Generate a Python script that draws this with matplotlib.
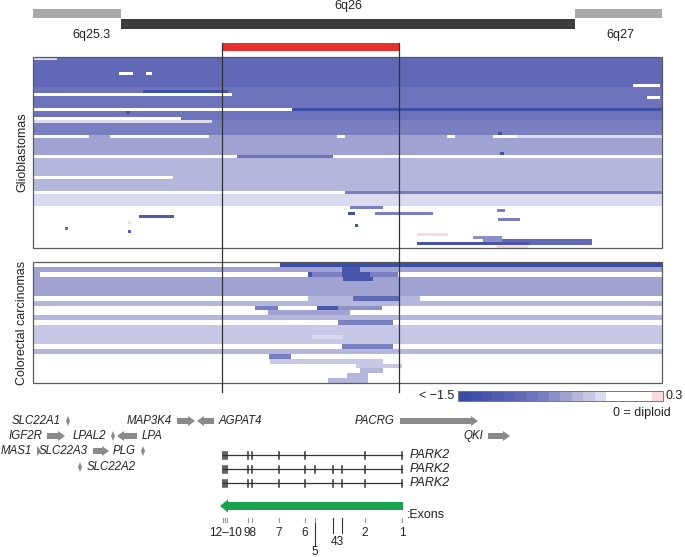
import numpy as np
import matplotlib
matplotlib.use("Agg")
import matplotlib.pyplot as plt
from matplotlib.colors import ListedColormap, BoundaryNorm
from matplotlib.patches import Rectangle, Polygon

plt.rcParams['font.family'] = ['Liberation Sans', 'DejaVu Sans']

# ---------------- DATA ----------------
# chromosome bands (position units along the region, panel spans 0..629)
band_names = ['6q25.3', '6q26', '6q27']
band_start = [0, 88, 542]
band_end = [88, 542, 629]
# minimal deleted region
mdr_start, mdr_end = 189, 366

# colour scale of log2 ratios
cbar_min, cbar_max, cbar_step = -1.5, 0.3, 0.1
scale_colors = ['#3a4ca6', '#3f50a8', '#4756ab', '#4f5cae', '#5860b2', '#6168b6',
                '#6d73bb', '#7a7fc1', '#8c90c9', '#a0a3d2', '#b4b6dc', '#c7c8e5',
                '#dadbee', '#ffffff', '#ffffff', '#ffffff', '#ffffff', '#fbd9dc']

# Glioblastoma samples: base ratio per row and segment overrides (row, start, end, value)
glio_base = ([-0.97] * 10 + [-0.88, -0.88, -0.85, -0.85, -0.85, -0.85, -0.85,
             -1.35, -0.82, -0.82, -0.82, -0.8, -0.75, -0.75, -0.75, -0.75, -0.6]
             + [-0.58] * 6 + [0.0] + [-0.5] * 7 + [-0.45] * 4 + [-0.8]
             + [-0.25] * 4 + [0.0] * 14)
glio_segments = [
    (0, 0, 24, -0.3), (5, 86, 100, 0.0), (5, 113, 119, 0.0), (9, 600, 627, 0.0),
    (11, 110, 195, -1.35), (12, 0, 199, 0.0), (13, 614, 627, 0.0),
    (17, 0, 259, 0.0), (18, 93, 97, -1.35), (20, 0, 148, 0.0), (21, 0, 179, -0.3),
    (25, 465, 469, -1.35),
    (26, 0, 56, 0.0), (26, 77, 176, 0.0), (26, 304, 312, 0.0), (26, 414, 422, 0.0),
    (26, 460, 484, 0.0), (26, 484, 629, -0.3),
    (32, 467, 471, -1.35), (33, 204, 300, -0.85), (40, 0, 140, 0.0), (45, 0, 312, 0.0),
    (50, 317, 350, -0.75), (51, 464, 472, -0.8), (52, 315, 322, -1.35), (52, 342, 400, -0.8),
    (53, 106, 141, -1.2), (54, 465, 487, -0.8), (55, 95, 98, 0.3), (56, 322, 325, -1.3),
    (57, 32, 35, -1.0), (58, 95, 98, -1.1), (59, 384, 415, 0.3), (60, 440, 469, -0.7),
    (61, 450, 469, -0.7), (61, 469, 559, -1.0), (62, 384, 497, -1.3), (62, 497, 559, -1.0),
    (63, 464, 495, 0.3),
]

# Colorectal carcinoma samples
crc_base = [0.0, -0.55, 0.0, -0.55, -0.6, -0.6, -0.55, 0.0, -0.5, 0.0, 0.0, -0.45, 0.0,
            -0.35, -0.35, -0.35, -0.35, 0.0, -0.45, 0.0, 0.0, 0.0, 0.0, 0.0, 0.0]
crc_segments = [
    (0, 247, 629, -1.45), (1, 309, 327, -1.3),
    (2, 0, 7, -0.55), (2, 275, 279, -1.3), (2, 279, 309, -0.8), (2, 309, 337, -1.3), (2, 337, 365, -0.75),
    (3, 310, 340, -1.3),
    (7, 275, 320, -0.5), (7, 320, 367, -1.0), (7, 367, 387, -0.5),
    (9, 222, 245, -0.8), (9, 284, 305, -1.25), (9, 305, 349, -0.7),
    (10, 235, 317, -0.55), (12, 305, 360, -0.75), (15, 279, 310, -0.25),
    (17, 309, 360, -0.75), (19, 236, 258, -0.8), (20, 237, 350, -0.4),
    (21, 323, 369, -0.4), (22, 327, 350, -0.5), (23, 314, 335, -0.45), (24, 295, 335, -0.45),
]

# genes
gene_names = ['SLC22A1', 'IGF2R', 'MAS1', 'SLC22A3', 'SLC22A2', 'LPAL2', 'LPA', 'PLG',
              'MAP3K4', 'AGPAT4', 'PACRG', 'QKI']
gene_start = [33, 14, 4, 60, 45, 78, 84, 108, 144, 164, 367, 455]
gene_end = [37, 32, 8, 76, 49, 82, 104, 112, 162, 181, 445, 477]
gene_strand = [0, 1, 1, 1, 0, 0, -1, 0, 1, -1, 1, 1]
gene_track = [0, 1, 2, 2, 3, 1, 1, 2, 0, 0, 0, 1]
gene_label_side = ['L', 'L', 'L', 'L', 'R', 'L', 'R', 'L', 'L', 'R', 'L', 'L']

# PARK2 exons
exon_ids = ['12', '11', '10', '9', '8', '7', '6', '5', '4', '3', '2', '1']
exon_pos = [190, 192, 194, 215, 219, 246, 272, 282, 300, 309, 332, 369]
transcripts = [
    ['12', '11', '10', '9', '8', '7', '6', '2', '1'],
    ['12', '11', '10', '9', '8', '7', '6', '5', '4', '3', '2', '1'],
    ['12', '11', '10', '9', '8', '7', '6', '4', '3', '2', '1'],
]
exon_label_text = ['12\u201310', '98', '7', '6', '5', '43', '2', '1']
exon_label_members = [['12', '11', '10'], ['9', '8'], ['7'], ['6'], ['5'], ['4', '3'], ['2'], ['1']]
exon_label_level = [0, 0, 0, 0, 2, 1, 0, 0]

# ---------------- LAYOUT ----------------
W, H = 685, 557
X0 = 33  # pixel position of region start
fig = plt.figure(figsize=(W / 100, H / 100), dpi=100)
ax = fig.add_axes([0, 0, 1, 1])
ax.set_xlim(-X0, W - X0)
ax.set_ylim(H, 0)
ax.axis('off')

REG_W = 629
txt = '#222222'

# ideogram
band_y = {'hi': (9, 18), 'lo': (19, 29)}
band_style = [('hi', '#a9a9a9'), ('lo', '#3c3c3c'), ('hi', '#a9a9a9')]
band_label_x = [58, 315, 587]
band_label_y = [35, 6, 35]
for i, nm in enumerate(band_names):
    lvl, col = band_style[i]
    y0, y1 = band_y[lvl]
    ax.add_patch(Rectangle((band_start[i], y0), band_end[i] - band_start[i], y1 - y0,
                           facecolor=col, edgecolor='none'))
    ax.text(band_label_x[i], band_label_y[i], nm, ha='center', va='center', fontsize=9, color=txt)

# red MDR bar
ax.add_patch(Rectangle((mdr_start, 43), mdr_end - mdr_start, 8, facecolor='#e8302e', edgecolor='none'))

# colormap
bounds = np.round(np.arange(cbar_min, cbar_max + cbar_step / 2, cbar_step), 2)
cmap = ListedColormap(scale_colors)
cmap.set_under(scale_colors[0])
norm = BoundaryNorm(bounds, cmap.N)


def build(base, segs):
    m = np.array(base, dtype=float)[:, None] * np.ones((1, REG_W))
    for r, s, e, v in segs:
        m[r, s:e] = v
    return m


panels = [
    (build(glio_base, glio_segments), 57, 248, 'Glioblastomas'),
    (build(crc_base, crc_segments), 262, 383, 'Colorectal carcinomas'),
]
for mat, top, bot, label in panels:
    ax.imshow(mat, cmap=cmap, norm=norm, extent=(0, REG_W, bot, top), origin='upper',
              aspect='auto', interpolation='nearest', zorder=1)
    ax.add_patch(Rectangle((0, top), REG_W, bot - top, facecolor='none',
                           edgecolor='#5a5a5a', lw=0.9, zorder=3))
    ax.text(-11, (top + bot) / 2, label, rotation=90, ha='center', va='center',
            fontsize=9, color=txt)

# boundary lines of MDR
for xv in (mdr_start, mdr_end):
    ax.plot([xv, xv], [43, 392], color='#333333', lw=0.9, zorder=4)

# colour bar
cb_vals = (bounds[:-1] + bounds[1:]) / 2
ax.imshow(cb_vals[None, :], cmap=cmap, norm=norm, extent=(425, 630, 401, 391),
          aspect='auto', interpolation='nearest', zorder=1)
ax.add_patch(Rectangle((425, 391), 205, 10, facecolor='none', edgecolor='#777777', lw=0.7))
ax.text(421, 396, '< \u22121.5', ha='right', va='center', fontsize=9, color=txt)
ax.text(633, 396, '0.3', ha='left', va='center', fontsize=9, color=txt)
ax.text(609, 413, '0 = diploid', ha='center', va='center', fontsize=9, color=txt)

# genes
track_y = [421, 436, 451, 467]
gcol = '#8a8a8a'
for nm, s, e, st, tr, side in zip(gene_names, gene_start, gene_end, gene_strand,
                                  gene_track, gene_label_side):
    y = track_y[tr]
    if st == 0:
        cx = (s + e) / 2
        pts = [(cx, y - 5), (e, y), (cx, y + 5), (s, y)]
    else:
        hl = min(7, e - s)
        if st > 0:
            b = e - hl
            pts = [(s, y - 3), (b, y - 3), (b, y - 5), (e, y), (b, y + 5), (b, y + 3), (s, y + 3)]
            if hl >= e - s:
                pts = [(s, y - 5), (e, y), (s, y + 5)]
        else:
            b = s + hl
            pts = [(e, y - 3), (b, y - 3), (b, y - 5), (s, y), (b, y + 5), (b, y + 3), (e, y + 3)]
    ax.add_patch(Polygon(pts, closed=True, facecolor=gcol, edgecolor='none'))
    if side == 'L':
        ax.text(s - 5, y, nm, ha='right', va='center', fontsize=8.3, style='italic', color=txt)
    else:
        ax.text(e + 5, y, nm, ha='left', va='center', fontsize=8.3, style='italic', color=txt)

# PARK2 transcripts
epos = dict(zip(exon_ids, exon_pos))
tx_y = [455, 469, 483]
for ty, exs in zip(tx_y, transcripts):
    xs = [epos[e] for e in exs]
    ax.plot([min(xs), max(xs)], [ty, ty], color='#333333', lw=0.9)
    for x in xs:
        ax.plot([x, x], [ty - 3.5, ty + 3.5], color='#333333', lw=1.1)
    ax.text(377, ty, 'PARK2', ha='left', va='center', fontsize=9, style='italic', color=txt)

# green gene arrow (PARK2, minus strand)
g0, g1 = min(exon_pos), max(exon_pos)
gy = 506
ax.add_patch(Polygon([(g1 + 1, gy - 4), (g0 + 5, gy - 4), (g0 + 5, gy - 6.5), (g0 - 3, gy),
                      (g0 + 5, gy + 6.5), (g0 + 5, gy + 4), (g1 + 1, gy + 4)],
                     closed=True, facecolor='#17a24b', edgecolor='none'))
ax.text(g1 + 5, 515, ':Exons', ha='left', va='center', fontsize=9, color=txt)

# exon ticks and labels
for x in exon_pos:
    ax.plot([x, x], [518, 522], color='#999999', lw=0.8)
level_y = [533, 542, 552]
for t, mem, lv in zip(exon_label_text, exon_label_members, exon_label_level):
    xs = [epos[m] for m in mem]
    cx = (min(xs) + max(xs)) / 2
    if lv > 0:
        for x in xs:
            ax.plot([x, x], [518 if lv == 1 else 523, level_y[lv] - 9 if lv == 1 else 546],
                    color='#333333', lw=0.8)
    ax.text(cx, level_y[lv], t, ha='center', va='center', fontsize=8.5, color=txt)

fig.savefig('out.png', dpi=100)
